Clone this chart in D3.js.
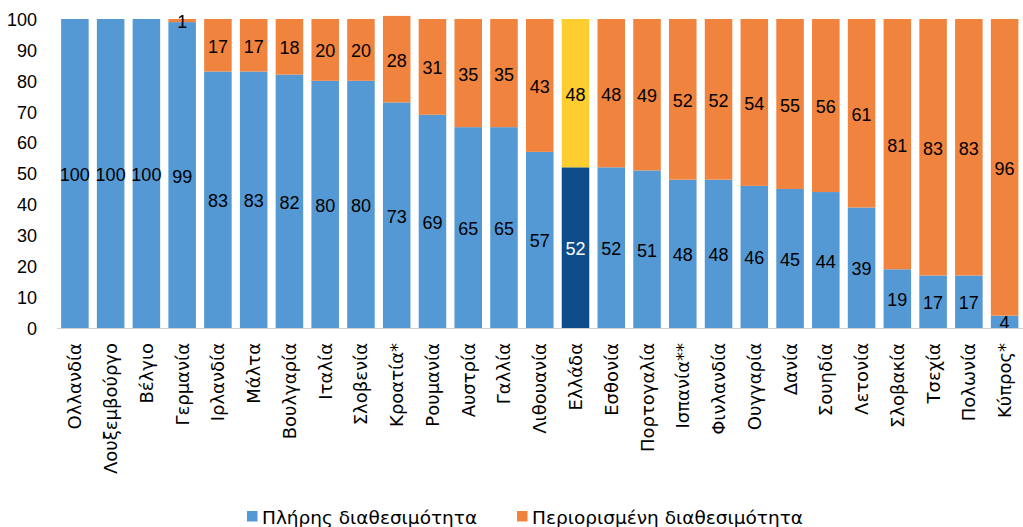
<!DOCTYPE html>
<html><head><meta charset="utf-8">
<script src="https://cdn.jsdelivr.net/npm/d3@7"></script>
<style>body{margin:0;background:#fff}svg{display:block;font-family:"Liberation Sans",Arial,sans-serif}
.gr{font-family:"DejaVu Sans",sans-serif}</style>
</head><body><svg id="c" width="1023" height="527"></svg>
<script>
const categories = ["Ολλανδία","Λουξεμβούργο","Βέλγιο","Γερμανία","Ιρλανδία","Μάλτα","Βουλγαρία","Ιταλία","Σλοβενία","Κροατία*","Ρουμανία","Αυστρία","Γαλλία","Λιθουανία","Ελλάδα","Εσθονία","Πορτογαλία","Ισπανία**","Φινλανδία","Ουγγαρία","Δανία","Σουηδία","Λετονία","Σλοβακία","Τσεχία","Πολωνία","Κύπρος*"];
const fullAvail = [100,100,100,99,83,83,82,80,80,73,69,65,65,57,52,52,51,48,48,46,45,44,39,19,17,17,4];
const limitedAvail = [0,0,0,1,17,17,18,20,20,28,31,35,35,43,48,48,49,52,52,54,55,56,61,81,83,83,96];
const seriesNames = ["Πλήρης διαθεσιμότητα","Περιορισμένη διαθεσιμότητα"];
const yTicks = [0,10,20,30,40,50,60,70,80,90,100];
const highlight = "Ελλάδα";

const colBlue="#5599D4", colOrange="#F0843F", colNavy="#0E4C8A", colYellow="#FECD2F";
const svg=d3.select("#c");
const x=d3.scaleBand().domain(categories).range([57,1022.5]).paddingInner(0.23).paddingOuter(0.115);
const y=d3.scaleLinear().domain([0,100]).range([328,19]);

// y tick labels
svg.append("g").selectAll("text").data(yTicks).join("text")
 .attr("x",37).attr("y",d=>y(d)).attr("dy","0.38em").attr("text-anchor","end")
 .attr("font-size",18).attr("fill","#000").text(d=>d);

const data=categories.map((c,i)=>({c,a:fullAvail[i],b:limitedAvail[i]}));
const g=svg.append("g");
data.forEach(d=>{
  const hi=d.c===highlight;
  const bx=x(d.c), bw=x.bandwidth();
  g.append("rect").attr("x",bx).attr("width",bw).attr("y",y(d.a)).attr("height",y(0)-y(d.a))
   .attr("fill",hi?colNavy:colBlue);
  if(d.b>0) g.append("rect").attr("x",bx).attr("width",bw).attr("y",y(d.a+d.b)).attr("height",y(d.a)-y(d.a+d.b))
   .attr("fill",hi?colYellow:colOrange);
  g.append("text").attr("x",bx+bw/2).attr("y",y(d.a/2)).attr("dy","0.42em").attr("text-anchor","middle")
   .attr("font-size",18).attr("fill",hi?"#fff":"#000").text(d.a);
  if(d.b>0) g.append("text").attr("x",bx+bw/2).attr("y",y(d.a+d.b/2)).attr("dy","0.42em").attr("text-anchor","middle")
   .attr("font-size",18).attr("fill","#000").text(d.b);
});

// baseline
svg.append("line").attr("x1",57).attr("x2",1023).attr("y1",328.5).attr("y2",328.5).attr("stroke","#d0d0d0").attr("stroke-width",1.2);

// x labels
svg.append("g").selectAll("text").data(categories).join("text").attr("class","gr")
 .attr("transform",d=>`translate(${x(d)+x.bandwidth()/2},343) rotate(-90)`)
 .attr("dy","0.36em").attr("text-anchor","end").attr("font-size",18).attr("fill","#000").text(d=>d);

// legend
const leg=[{n:seriesNames[0],c:colBlue,x:247},{n:seriesNames[1],c:colOrange,x:517}];
leg.forEach(l=>{
  svg.append("rect").attr("x",l.x).attr("y",511).attr("width",10.5).attr("height",10.5).attr("fill",l.c);
  svg.append("text").attr("class","gr").attr("x",l.x+15).attr("y",524).attr("font-size",18.5).attr("fill","#000").text(l.n);
});
</script></body></html>
